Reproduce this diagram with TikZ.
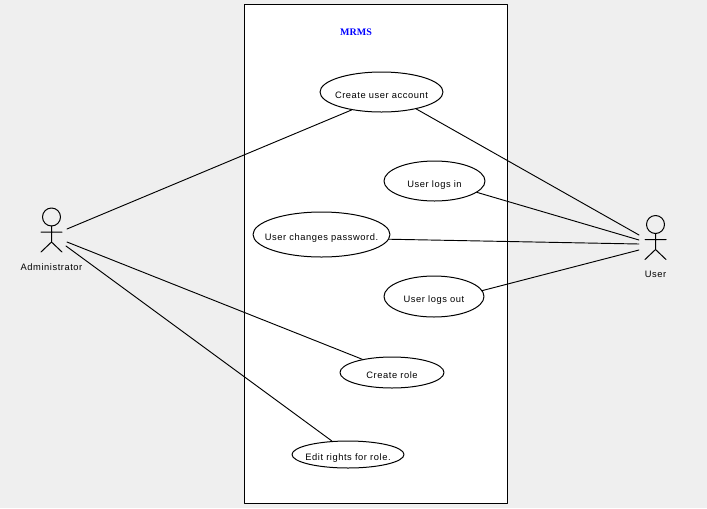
\documentclass[tikz,border=0pt]{standalone}
\usepackage{fontspec}
\setmainfont{Liberation Sans}[LetterSpace=6]
\newfontfamily\titlefont{Liberation Serif}
\usetikzlibrary{shapes.geometric}
\definecolor{panelgray}{HTML}{EFEFEF}
\tikzset{
	usecase/.style={draw=black, fill=white, ellipse, inner sep=-20pt, text height=9.5pt, text depth=0pt},
	actorname/.style={inner sep=0pt, font=\fontsize{7}{8}\selectfont},
	link/.style={draw=black, line width=0.7pt}
}
\begin{document}
\begin{tikzpicture}[x=0.75pt, y=-0.75pt, line join=round, line cap=round, line width=0.75pt, font=\fontsize{7}{8}\selectfont]%MRMS
	\useasboundingbox[fill=panelgray](0,0)rectangle(707,508);
	\draw[fill=white](244.5,4.5)rectangle(507.5,503.5);
	\node[text=blue, inner sep=0pt, font=\fontsize{7.5}{8}\selectfont\titlefont\bfseries](title)at(356,32){MRMS};
	% use cases
	\node[usecase, minimum width=92.25pt, minimum height=30pt](account)at(381.5,92){Create user account};
	\node[usecase, minimum width=75.75pt, minimum height=30pt](login)at(434.5,181){User logs in};
	\node[usecase, minimum width=102.75pt, minimum height=33.75pt](password)at(321.5,234.5){User changes password.};
	\node[usecase, minimum width=75pt, minimum height=30.75pt](logout)at(434,296.5){User logs out};
	\node[usecase, minimum width=78pt, minimum height=23.25pt](role)at(392,372.5){Create role};
	\node[usecase, minimum width=84pt, minimum height=20.25pt](rights)at(348,454.5){Edit rights for role.};
	% actors
	\foreach \n/\x/\y/\t in{admin/51.5/217/Administrator,user/655.5/224.5/User}{
		\draw(\x,\y)circle(6.75pt);
		\draw(\x,\y+9)--++(0,16)(\x-10.5,\y+15)--(\x+10.5,\y+15)(\x-10.5,\y+35)--(\x,\y+25)--(\x+10.5,\y+35);
		\node[actorname](\n)at(\x,\y+50){\t};
	}
	% free ends beside the actors
	\path(67,229)coordinate(A1)(67,242)coordinate(A2)(66,246)coordinate(A3);
	\path(639,235)coordinate(U1)(639,240)coordinate(U2)(639,244)coordinate(U3)(639,250)coordinate(U4);
	\draw[link](A1)--(account.-149);
	\draw[link](A2)--(role.156);
	\draw[link](A3)--(rights.140);
	\draw[link](U1)--(account.-26);
	\draw[link](U2)--(login.-15);
	\draw[link](U3)--(password.-4);
	\draw[link](U4)--(logout.7);
\end{tikzpicture}
\end{document}
